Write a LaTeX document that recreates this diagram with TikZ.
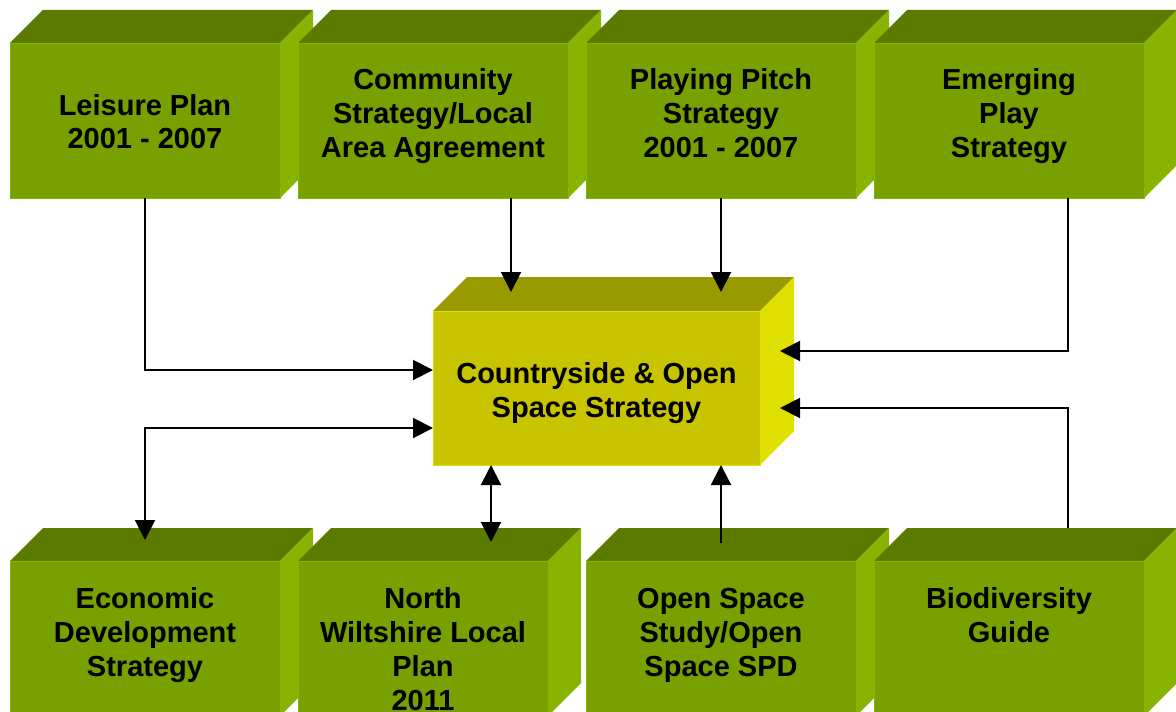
\documentclass[tikz,border=0pt]{standalone}
\usepackage{fontspec}
\setmainfont{Liberation Sans}
\usetikzlibrary{positioning,arrows.meta,backgrounds}
\definecolor{frontgreen}{RGB}{119,160,0}
\definecolor{topgreen}{RGB}{92,122,0}
\definecolor{sidegreen}{RGB}{134,180,0}
\definecolor{frontyel}{RGB}{200,196,0}
\definecolor{topyel}{RGB}{153,153,0}
\definecolor{sideyel}{RGB}{224,224,0}
\tikzstyle{box} = [rectangle, minimum width=135pt, minimum height=77.5pt, inner sep=0pt, outer sep=0pt, fill=frontgreen, draw=sidegreen, line width=0.4pt]
\tikzstyle{main} = [box, minimum width=163.5pt, minimum height=77pt, fill=frontyel, draw=sideyel]
\tikzstyle{txt} = [align=center, font=\bfseries\fontsize{14.5pt}{17pt}\selectfont, inner sep=0pt, anchor=base]
\tikzstyle{arrow} = [line width=1pt, ->, >={Triangle[length=10pt,width=10pt]}]

\begin{document}
\begin{tikzpicture}[x=0.5pt, y=-0.5pt, node distance=9pt]
\useasboundingbox (0,0) rectangle (1176,711);
\clip (0,0) rectangle (1176,711);
% front faces
\node (leisure) [box, anchor=north west] at (10,43) {};
\node (comm) [box, right=of leisure] {};
\node (pitch) [box, right=of comm] {};
\node (play) [box, right=of pitch] {};
\node (cos) [main, anchor=north west] at (433,311) {};
\node (econ) [box, anchor=north west] at (10,561) {};
\node (nwlp) [box, minimum width=125pt, right=of econ] {};
\node (ospace) [box, anchor=north west] at (586,561) {};
\node (bio) [box, right=of ospace] {};

% top and side faces
\begin{scope}[on background layer]
\foreach \n in {leisure,comm,pitch,play,econ,nwlp,ospace,bio}{
  \fill [topgreen] (\n.north west) -- ++(33,-33) -- ([shift={(33,-33)}]\n.north east) -- (\n.north east) -- cycle;
  \fill [sidegreen] (\n.north east) -- ++(33,-33) -- ([shift={(33,-33)}]\n.south east) -- (\n.south east) -- cycle;
}
\fill [topyel] (cos.north west) -- ++(34,-34) -- ([shift={(34,-34)}]cos.north east) -- (cos.north east) -- cycle;
\fill [sideyel] (cos.north east) -- ++(34,-34) -- ([shift={(34,-34)}]cos.south east) -- (cos.south east) -- cycle;
\end{scope}

% texts (anchored at the baseline of the last line)
\node [txt] at ([yshift=-53pt]leisure.north) {Leisure Plan\\2001 - 2007};
\node [txt] at ([yshift=-57.5pt]comm.north) {Community\\Strategy/Local\\Area Agreement};
\node [txt] at ([yshift=-57.5pt]pitch.north) {Playing Pitch\\Strategy\\2001 - 2007};
\node [txt] at ([yshift=-57.5pt]play.north) {Emerging\\Play\\Strategy};
\node [txt] at ([yshift=-53pt]cos.north) {Countryside \& Open\\Space Strategy};
\node [txt] at ([yshift=-57.5pt]econ.north) {Economic\\Development\\Strategy};
\node [txt] at ([yshift=-74.5pt]nwlp.north) {North\\Wiltshire Local\\Plan\\2011};
\node [txt] at ([yshift=-57.5pt]ospace.north) {Open Space\\Study/Open\\Space SPD};
\node [txt] at ([yshift=-40.5pt]bio.north) {Biodiversity\\Guide};

% connectors
\coordinate (cin) at ([shift={(78,-19)}]cos.north west);
\coordinate (nwin) at ([xshift=29pt]cos.south west);
\coordinate (nwtop) at ([yshift=9.5pt]nwlp.north);
\draw [arrow] (leisure.south) |- ([yshift=9pt]cos.west);
\draw [arrow] (comm.south -| cin) -- (cin);
\draw [arrow] (pitch.south) -- (pitch.south |- cin);
\draw [arrow] ([xshift=29.5pt]play.south) |- ([shift={(10pt,18.5pt)}]cos.east);
\draw [arrow] ([shift={(29.5pt,16.5pt)}]bio.north) |- ([shift={(10pt,-10pt)}]cos.east);
\draw [arrow, <->] ([yshift=10.5pt]econ.north) |- ([yshift=-20pt]cos.west);
\draw [arrow, <->] (nwin) -- (nwin |- nwtop);
\draw [arrow] ([yshift=9pt]ospace.north) -- (ospace.north |- cos.south);
\end{tikzpicture}
\end{document}
